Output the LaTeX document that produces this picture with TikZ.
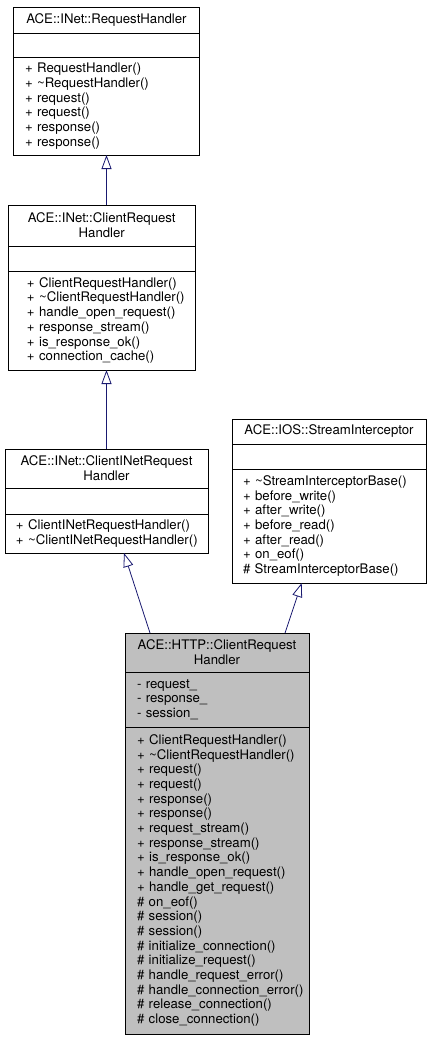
\documentclass[tikz,border=0pt]{standalone}
\usepackage{fontspec}
\setmainfont{TeX Gyre Heros}
\usetikzlibrary{arrows.meta,positioning}

\definecolor{edgeblue}{RGB}{25,25,112}
\definecolor{focusgray}{RGB}{191,191,191}

\tikzset{
  umlpart/.style={draw=black, line width=0.8pt, outer sep=0pt, inner ysep=0pt,
    font=\fontsize{13.2}{14.7}\selectfont, execute at begin node={\hyphenpenalty=10000\relax}},
  umltitle/.style={umlpart, align=center},
  umlbody/.style={umlpart, align=left},
  inherit/.style={draw=edgeblue, line width=0.8pt, -{Triangle[open, length=14pt, width=10pt]}}
}

\begin{document}
\begin{tikzpicture}[x=1pt, y=-1pt]
	\useasboundingbox (0,0) rectangle (431,1037);
	
	% ACE::INet::RequestHandler
	\begin{scope}[nodes={text width=163pt, inner xsep=11.5pt}]
		\node[umltitle, anchor=north west, minimum height=26pt] (rhTitle) at (13.5,7) {ACE::INet::RequestHandler};
		\node[umlbody, below=0pt of rhTitle, minimum height=24pt] (rhAttr) {};
		\node[umlbody, below=0pt of rhAttr, minimum height=98pt] (rhOps) {+~RequestHandler()\\+~\textasciitilde RequestHandler()\\+~request()\\+~request()\\+~response()\\+~response()};
	\end{scope}
	
	% ACE::INet::ClientRequestHandler
	\begin{scope}[nodes={text width=149.5pt, inner xsep=18.5pt}]
		\node[umltitle, anchor=north west, minimum height=41pt] (crhTitle) at (8.5,205) {ACE::INet::ClientRequest\\Handler};
		\node[umlbody, below=0pt of crhTitle, minimum height=25pt] (crhAttr) {};
		\node[umlbody, below=0pt of crhAttr, minimum height=99pt] (crhOps) {+~ClientRequestHandler()\\+~\textasciitilde ClientRequestHandler()\\+~handle\_open\_request()\\+~response\_stream()\\+~is\_response\_ok()\\+~connection\_cache()};
	\end{scope}
	
	% ACE::INet::ClientINetRequestHandler
	\begin{scope}[nodes={text width=181pt, inner xsep=11pt}]
		\node[umltitle, anchor=north west, minimum height=39pt] (cinTitle) at (5,449) {ACE::INet::ClientINetRequest\\Handler};
		\node[umlbody, below=0pt of cinTitle, minimum height=26pt] (cinAttr) {};
		\node[umlbody, below=0pt of cinAttr, minimum height=39pt] (cinOps) {+~ClientINetRequestHandler()\\+~\textasciitilde ClientINetRequestHandler()};
	\end{scope}
	
	% ACE::IOS::StreamInterceptor
	\begin{scope}[nodes={text width=172pt, inner xsep=11pt}]
		\node[umltitle, anchor=north west, minimum height=25pt] (siTitle) at (232,419) {ACE::IOS::StreamInterceptor};
		\node[umlbody, below=0pt of siTitle, minimum height=25pt] (siAttr) {};
		\node[umlbody, below=0pt of siAttr, minimum height=114pt] (siOps) {+~\textasciitilde StreamInterceptorBase()\\+~before\_write()\\+~after\_write()\\+~before\_read()\\+~after\_read()\\+~on\_eof()\\\#~StreamInterceptorBase()};
	\end{scope}
	
	% ACE::HTTP::ClientRequestHandler
	\begin{scope}[nodes={text width=160pt, inner xsep=12pt, fill=focusgray}]
		\node[umltitle, anchor=north west, minimum height=39pt] (httpTitle) at (125,633) {ACE::HTTP::ClientRequest\\Handler};
		\node[umlbody, below=0pt of httpTitle, minimum height=55pt] (httpAttr) {-~request\_\\-~response\_\\-~session\_};
		\node[umlbody, below=0pt of httpAttr, minimum height=307pt] (httpOps) {+~ClientRequestHandler()\\+~\textasciitilde ClientRequestHandler()\\+~request()\\+~request()\\+~response()\\+~response()\\+~request\_stream()\\+~response\_stream()\\+~is\_response\_ok()\\+~handle\_open\_request()\\+~handle\_get\_request()\\\#~on\_eof()\\\#~session()\\\#~session()\\\#~initialize\_connection()\\\#~initialize\_request()\\\#~handle\_request\_error()\\\#~handle\_connection\_error()\\\#~release\_connection()\\\#~close\_connection()};
	\end{scope}
	
	% Inheritance arrows
	\draw[inherit] (crhTitle.north -| rhOps.south) -- (rhOps.south);
	\draw[inherit] (cinTitle.north) -- (cinTitle.north |- crhOps.south);
	\draw[inherit] ([xshift=-67pt]httpTitle.north) -- ([xshift=17.5pt]cinOps.south);
	\draw[inherit] ([xshift=68pt]httpTitle.north) -- ([xshift=-27.3pt]siOps.south);
	
\end{tikzpicture}
\end{document}
